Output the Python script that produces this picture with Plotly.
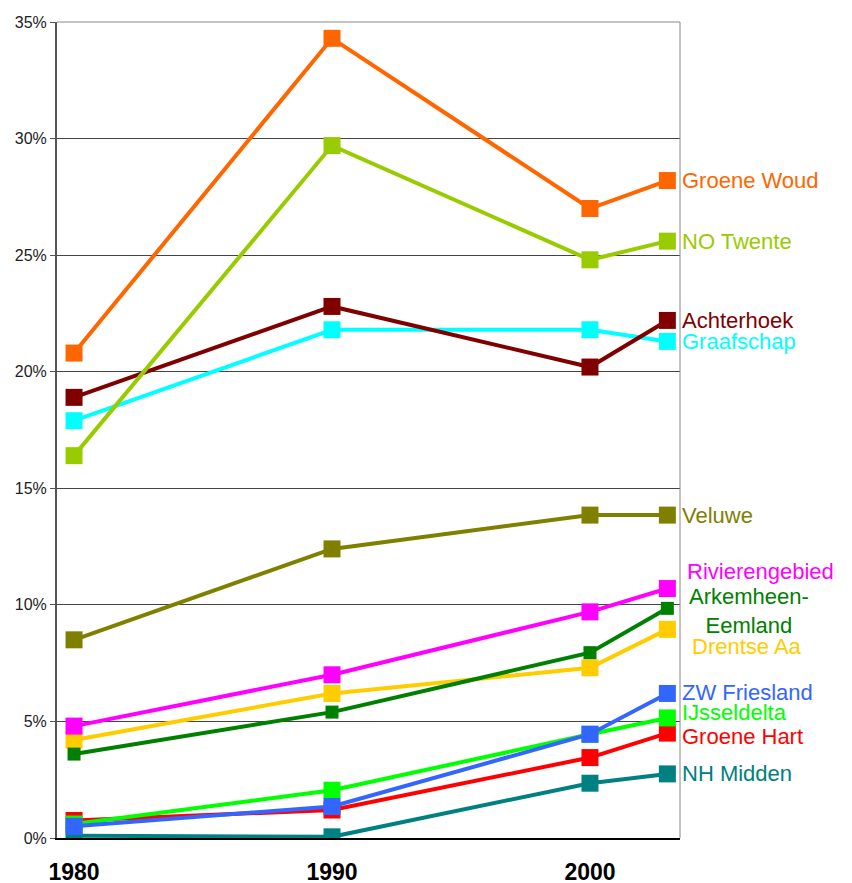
import plotly.graph_objects as go

years = [1980, 1990, 2000, 2003]

regions = [
    "NH Midden", "Groene Hart", "IJsseldelta", "ZW Friesland",
    "Drentse Aa", "Arkemheen-Eemland", "Rivierengebied", "Veluwe",
    "Graafschap", "Achterhoek", "NO Twente", "Groene Woud",
]
values = {
    "Groene Woud":       [20.8, 34.3, 27.0, 28.2],
    "NO Twente":         [16.4, 29.7, 24.8, 25.6],
    "Achterhoek":        [18.9, 22.8, 20.2, 22.2],
    "Graafschap":        [17.9, 21.8, 21.8, 21.3],
    "Veluwe":            [8.5, 12.4, 13.85, 13.85],
    "Rivierengebied":    [4.8, 7.0, 9.7, 10.7],
    "Arkemheen-Eemland": [3.6, 5.4, 7.95, 9.85],
    "Drentse Aa":        [4.2, 6.2, 7.3, 8.95],
    "ZW Friesland":      [0.5, 1.35, 4.45, 6.2],
    "IJsseldelta":       [0.6, 2.05, 4.45, 5.15],
    "Groene Hart":       [0.75, 1.2, 3.45, 4.5],
    "NH Midden":         [0.1, 0.05, 2.35, 2.75],
}
colors = {
    "Groene Woud": "#FF6600", "NO Twente": "#99CC00", "Achterhoek": "#800000",
    "Graafschap": "#00FFFF", "Veluwe": "#808000", "Rivierengebied": "#FF00FF",
    "Arkemheen-Eemland": "#008000", "Drentse Aa": "#FFCC00", "ZW Friesland": "#3366FF",
    "IJsseldelta": "#00FF00", "Groene Hart": "#FF0000", "NH Midden": "#008080",
}

fig = go.Figure()
for name in regions:
    msize = 13 if name == "Arkemheen-Eemland" else 17
    fig.add_trace(go.Scatter(
        x=years, y=values[name], mode="lines+markers", name=name,
        line=dict(color=colors[name], width=4),
        marker=dict(symbol="square", size=msize, color=colors[name]),
        showlegend=False,
    ))

# label text next to the last point (label y in data units, extra x shift in px)
labels = [
    ("Groene Woud", 28.22, 0), ("NO Twente", 25.6, 0), ("Achterhoek", 22.2, 0),
    ("Graafschap", 21.3, 0), ("Veluwe", 13.85, 0), ("Rivierengebied", 11.45, 5),
    ("Arkemheen-<br>Eemland", 9.74, 7), ("Drentse Aa", 8.23, 10),
    ("ZW Friesland", 6.26, 0), ("IJsseldelta", 5.4, 0), ("Groene Hart", 4.37, 0),
    ("NH Midden", 2.75, 0),
]
for text, ly, dx in labels:
    key = text.replace("<br>", "")
    fig.add_annotation(
        x=1.0, xref="paper", y=ly, yref="y", text=text, showarrow=False,
        xanchor="left", xshift=dx, align="center",
        font=dict(color=colors[key], size=22, family="Liberation Sans, Arial"),
    )

# right border and top line
fig.add_shape(type="line", xref="paper", yref="paper", x0=1, x1=1, y0=0, y1=1,
              line=dict(color="#888888", width=1))
fig.add_shape(type="line", xref="paper", yref="paper", x0=0, x1=1, y0=1, y1=1,
              line=dict(color="#888888", width=1))

fig.update_layout(
    width=852, height=883,
    margin=dict(l=49, r=180, t=14, b=53),
    paper_bgcolor="white", plot_bgcolor="white",
    font=dict(family="Liberation Sans, Arial", color="#222222"),
    xaxis=dict(
        range=[1979.34, 2003.49], tickvals=[1980, 1990, 2000],
        ticktext=["1980", "1990", "2000"],
        tickfont=dict(size=23, color="#000000", family="Liberation Sans, Arial", weight="bold"),
        showgrid=False, zeroline=False, showline=True, linecolor="#000000", linewidth=2,
        ticks="", ticklabelstandoff=12, automargin=False,
    ),
    yaxis=dict(
        range=[0, 35], tickvals=[0, 5, 10, 15, 20, 25, 30, 35],
        ticktext=["0%", "5%", "10%", "15%", "20%", "25%", "30%", "35%"],
        tickfont=dict(size=16, color="#222222"),
        showgrid=True, gridcolor="#444444", gridwidth=1,
        zeroline=False, showline=True, linecolor="#555555", linewidth=2,
        ticks="outside", ticklen=5, tickcolor="#555555", automargin=False,
    ),
)

fig.write_html("out.html")
